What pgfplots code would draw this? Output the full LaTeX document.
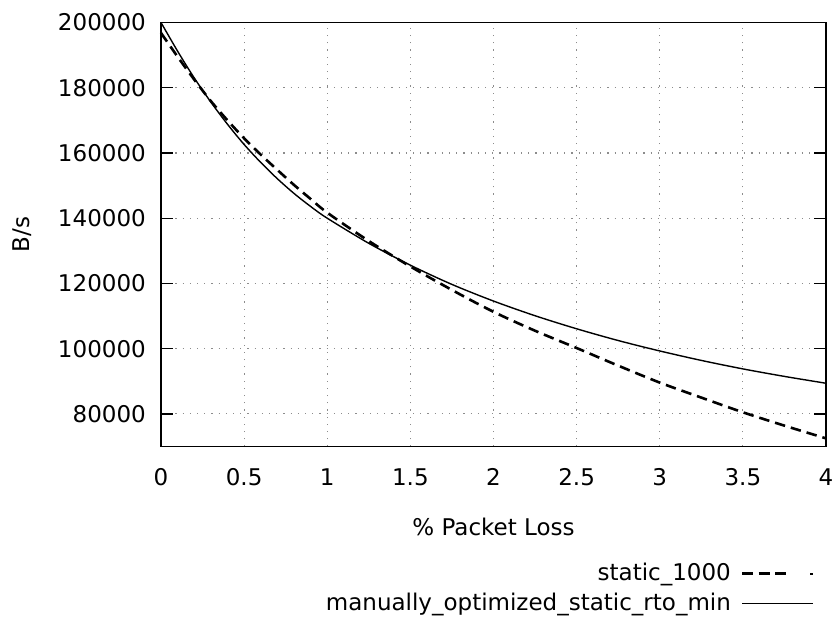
\documentclass[border=0pt]{standalone}
\usepackage{pgfplots}
\pgfplotsset{compat=1.18}
\usepackage{pgfplotstable}
\usepackage{fontspec}
\setmainfont{DejaVu Sans}

\pgfplotstableread{
x y
0 196800
0.1 189500
0.2 182500
0.3 175900
0.4 170000
0.5 164500
0.6 159500
0.7 154800
0.8 150200
0.9 145900
1.0 141700
1.25 133000
1.5 125200
1.75 118000
2.0 111300
2.25 105500
2.5 100200
2.75 94800
3.0 89600
3.25 85000
3.5 80500
3.75 76400
4.0 72500
}\staticdata

\pgfplotstableread{
x y
0 200000
0.1 191200
0.2 183000
0.3 175600
0.4 168800
0.5 162600
0.6 157100
0.7 152100
0.8 147600
0.9 143600
1.0 140000
1.25 132300
1.5 125600
1.75 119700
2.0 114600
2.25 110100
2.5 106100
2.75 102500
3.0 99300
3.25 96400
3.5 93800
3.75 91500
4.0 89400
}\manualdata

\begin{document}
\fontsize{23pt}{27pt}\selectfont
\begin{tikzpicture}[font=\fontsize{23pt}{27pt}\selectfont]
\begin{axis}[
  scale only axis, width=665pt, height=424pt,
  xmin=0, xmax=4, ymin=70000, ymax=200000,
  xtick={0,0.5,1,1.5,2,2.5,3,3.5,4},
  xticklabels={0,0.5,1,1.5,2,2.5,3,3.5,4},
  ytick={80000,100000,120000,140000,160000,180000,200000},
  yticklabels={80000,100000,120000,140000,160000,180000,200000},
  scaled y ticks=false,
  tick align=inside, major tick length=12pt,
  xtick style={draw=none},
  ytick style={line width=1.2pt, black},
  axis line style={line width=1.3pt},
  grid=major,
  major grid style={black!45, line width=1.1pt, dash pattern=on 1.2pt off 6pt},
  xticklabel style={inner sep=0pt, anchor=north, yshift=-22pt},
  yticklabel style={inner sep=0pt, anchor=east, xshift=-15pt},
  xlabel={\% Packet Loss},
  xlabel style={at={(axis description cs:0.5,-0.2096)}, anchor=base, inner sep=0pt},
  ylabel={B/s},
  ylabel style={at={(axis description cs:-0.209,0.5)}, anchor=center, inner sep=0pt},
  clip=false,
  legend style={at={(axis description cs:0.982,-0.270)}, anchor=north east,
    draw=none, fill=none, inner sep=0pt, row sep=5pt, column sep=8pt,
    cells={inner sep=0pt}},
  legend cell align=right,
  legend plot pos=right,
]
\path (axis description cs:-0.2421,-0.4068) rectangle (axis description cs:1.018,1.0531);
\addplot[black, line width=2.6pt, dash pattern=on 10.5pt off 6pt, smooth,
  legend image code/.code={\draw[black, line width=2.6pt, dash pattern=on 11pt off 5.5pt] (0pt,0pt) -- (45pt,0pt); \draw[black, line width=2pt] (68pt,0pt) -- (70.5pt,0pt);}]
  table[x=x, y=y] {\staticdata};
\addlegendentry{static\_1000}
\addplot[black, line width=1.4pt, smooth,
  legend image code/.code={\draw[black, line width=1.4pt] (0pt,0pt) -- (71pt,0pt);}]
  table[x=x, y=y] {\manualdata};
\addlegendentry{manually\_optimized\_static\_rto\_min}
\end{axis}
\end{tikzpicture}
\end{document}
